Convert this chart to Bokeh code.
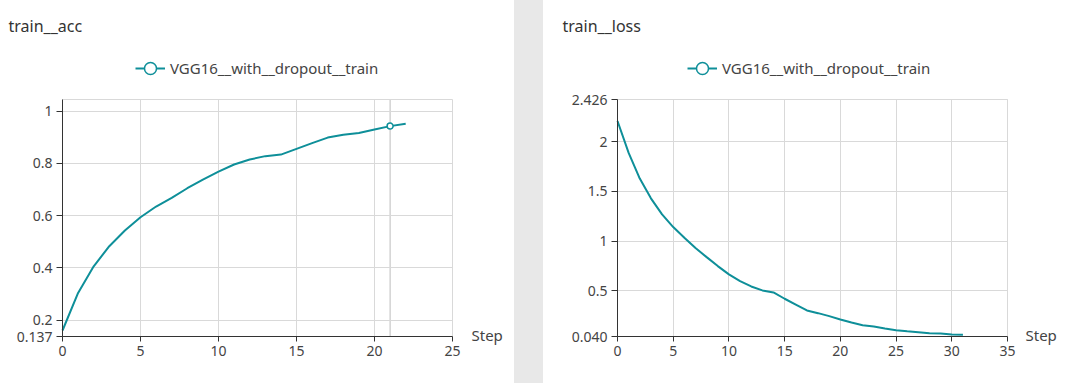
from bokeh.plotting import figure
from bokeh.models import FixedTicker, Range1d, Legend, LegendItem, Div, Label, Grid
from bokeh.layouts import row
from bokeh.embed import file_html
from bokeh.resources import INLINE

FONT = "Noto Sans"
TEAL = "#0e8f99"
TEXT = "#444444"
GRID = "#d9d9d9"

series_name = "VGG16__with__dropout__train"
x_axis_name = "Step"

acc_title = "train__acc"
acc_steps = list(range(23))
acc_values = [0.160, 0.304, 0.406, 0.483, 0.543, 0.594, 0.635, 0.668, 0.705, 0.738,
              0.769, 0.796, 0.815, 0.828, 0.834, 0.856, 0.878, 0.899, 0.910, 0.917,
              0.930, 0.943, 0.952]
acc_x_ticks = [0, 5, 10, 15, 20, 25]
acc_y_ticks = [0.137, 0.2, 0.4, 0.6, 0.8, 1]
acc_y_labels = ["0.137", "0.2", "0.4", "0.6", "0.8", "1"]
hover_step = 21

loss_title = "train__loss"
loss_steps = list(range(32))
loss_values = [2.210, 1.888, 1.630, 1.431, 1.270, 1.142, 1.035, 0.930, 0.839, 0.749,
               0.665, 0.597, 0.544, 0.504, 0.484, 0.420, 0.362, 0.302, 0.275, 0.245,
               0.211, 0.181, 0.154, 0.141, 0.121, 0.104, 0.093, 0.083, 0.073, 0.070,
               0.060, 0.057]
loss_x_ticks = [0, 5, 10, 15, 20, 25, 30, 35]
loss_y_ticks = [0.04, 0.5, 1, 1.5, 2, 2.426]
loss_y_labels = ["0.040", "0.5", "1", "1.5", "2", "2.426"]

# layout (pixels)
FIG_H = 383
PLOT_W, PLOT_H = 390, 237
PLOT_TOP, PLOT_BOTTOM_GAP = 99, 47
HAS_CROSS = "cross_bounds" in Grid.properties()


def make_panel(title, xs, ys, x_ticks, y_ticks, y_labels, x_end, y_start, y_end,
               fig_w, plot_left, title_x, legend_x, step_x, hover=None):
    kx = PLOT_W / x_end
    ky = PLOT_H / (y_end - y_start)
    x_rng = Range1d(-plot_left / kx, x_end + (fig_w - plot_left - PLOT_W) / kx)
    y_rng = Range1d(y_start - PLOT_BOTTOM_GAP / ky, y_end + PLOT_TOP / ky)
    p = figure(width=fig_w, height=FIG_H, min_border=0, x_range=x_rng, y_range=y_rng,
               toolbar_location=None, output_backend="svg", tools="", title=None)
    p.outline_line_color = None
    p.background_fill_color = "white"
    p.border_fill_color = "white"

    # axes pinned to the plot area
    xa, ya = p.xaxis[0], p.yaxis[0]
    xa.fixed_location = y_start
    xa.bounds = (0, x_end)
    ya.fixed_location = 0
    ya.bounds = (y_start, y_end)
    xa.ticker = FixedTicker(ticks=x_ticks)
    xa.major_label_overrides = {t: str(t) for t in x_ticks}
    ya.ticker = FixedTicker(ticks=y_ticks)
    ya.major_label_overrides = dict(zip(y_ticks, y_labels))
    for ax in (xa, ya):
        ax.axis_line_color = "#333333"
        ax.axis_line_width = 1
        ax.major_tick_line_color = "#333333"
        ax.major_tick_in = 0
        ax.minor_tick_line_color = None
        ax.major_label_text_font = FONT
        ax.major_label_text_font_size = "14px"
        ax.major_label_text_color = TEXT
    xa.major_tick_out = 5
    ya.major_tick_out = 6
    xa.major_label_standoff = 4
    ya.major_label_standoff = 4

    # grid lines limited to the plot area (plus its top border)
    xg, yg = p.xgrid[0], p.ygrid[0]
    xg.ticker = FixedTicker(ticks=x_ticks)
    yg.ticker = FixedTicker(ticks=y_ticks + [y_end])
    for g in (xg, yg):
        g.grid_line_color = GRID
        g.grid_line_width = 1
    if HAS_CROSS:
        xg.cross_bounds = (y_start, y_end)
        yg.cross_bounds = (0, x_end)
    else:
        xg.visible = False
        yg.visible = False
        p.segment(x0=x_ticks, y0=[y_start] * len(x_ticks), x1=x_ticks, y1=[y_end] * len(x_ticks),
                  line_color=GRID, line_width=1, level="underlay")
        gy = y_ticks + [y_end]
        p.segment(x0=[0] * len(gy), y0=gy, x1=[x_end] * len(gy), y1=gy,
                  line_color=GRID, line_width=1, level="underlay")

    if hover is not None:
        p.segment(x0=[hover], y0=[y_start], x1=[hover], y1=[y_end],
                  line_color="#bdbdbd", line_width=1, level="underlay")

    r = p.line(xs, ys, line_color=TEAL, line_width=2)
    # invisible on the chart (size 0); gives the legend its hollow circle
    m = p.scatter(xs, ys, marker="circle", size=0, fill_color="white",
                  line_color=TEAL, line_width=1.5)

    if hover is not None:
        p.scatter(x=[hover], y=[ys[xs.index(hover)]], marker="circle", size=6,
                  fill_color="white", line_color=TEAL, line_width=1.5)

    legend = Legend(items=[LegendItem(label=series_name, renderers=[r, m])],
                    location=(legend_x, FIG_H - 82.5), orientation="horizontal",
                    padding=0, margin=0, spacing=0,
                    glyph_width=30, glyph_height=30, label_height=20,
                    label_standoff=5,
                    label_text_font=FONT, label_text_font_size="15px",
                    label_text_color=TEXT,
                    border_line_color=None, background_fill_alpha=0)
    p.add_layout(legend)

    p.add_layout(Label(x=title_x, y=FIG_H - 25, x_units="screen", y_units="screen",
                       text=title, text_font=FONT, text_font_size="16px",
                       text_color="#333333", text_baseline="alphabetic"))
    p.add_layout(Label(x=step_x, y=FIG_H - 334, x_units="screen", y_units="screen",
                       text=x_axis_name, text_font=FONT, text_font_size="15px",
                       text_color=TEXT, text_baseline="middle"))
    return p


p1 = make_panel(acc_title, acc_steps, acc_values, acc_x_ticks, acc_y_ticks, acc_y_labels,
                25, 0.137, 1.045, 514, 62, 8, 135, 471, hover=hover_step)
sep = Div(width=29, height=FIG_H, margin=0, styles={"background-color": "#e8e8e8"})
p2 = make_panel(loss_title, loss_steps, loss_values, loss_x_ticks, loss_y_ticks, loss_y_labels,
                35, 0.04, 2.426, 524, 74, 19, 144, 482)

layout = row(p1, sep, p2)
open("out.html", "w").write(file_html(layout, INLINE))
